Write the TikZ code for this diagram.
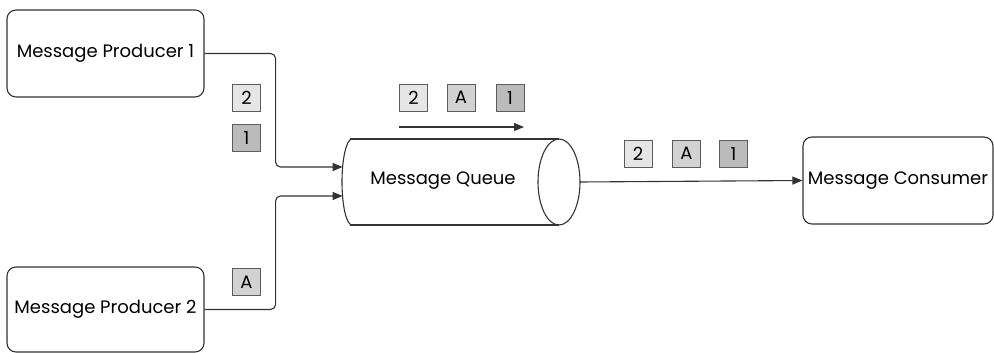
\documentclass[tikz,border=0pt]{standalone}
\usepackage{fontspec}
\setmainfont{Poppins}
\usetikzlibrary{arrows.meta}
\definecolor{tokA}{HTML}{E6E6E6}
\definecolor{tokB}{HTML}{D2D2D2}
\definecolor{tokC}{HTML}{BBBBBB}
\definecolor{edge}{HTML}{333333}
\tikzset{
  lbl/.style={font=\fontsize{18}{21}\selectfont},
  box/.style={lbl, draw=edge, line width=1.1pt, rounded corners=9pt, inner sep=0pt},
  tok/.style={lbl, draw=edge!80, line width=0.9pt, minimum width=28pt, minimum height=27pt, inner sep=0pt},
  conn/.style={draw=edge, line width=1.1pt, rounded corners=5pt, -{Triangle[length=10pt,width=8pt]}},
  plain/.style={draw=edge, line width=1.1pt}
}
\begin{document}
\begin{tikzpicture}[x=1pt,y=-1pt]
\useasboundingbox (0,0) rectangle (994,353);
% nodes
\node[box, minimum width=197pt, minimum height=87pt] (p1) at (105.5,53.5) {Message Producer 1};
\node[box, minimum width=197pt, minimum height=85pt] (p2) at (105.5,309.5) {Message Producer 2};
\node[box, minimum width=190pt, minimum height=87pt] (c) at (898,180.5) {Message Consumer};
% queue cylinder
\draw[plain] (350,139) -- (559,139) (350,225) -- (559,225);
\draw[plain] (352,139) arc[start angle=90, end angle=270, x radius=10pt, y radius=43pt];
\draw[plain] (559,182) ellipse[x radius=21pt, y radius=43pt];
\node[lbl] (q) at (443,181) {Message Queue};
\coordinate (qin1) at (342.6,167);
\coordinate (qin2) at (342.6,196);
\coordinate (qout) at (580,182);
% connectors
\draw[conn] (p1.east) -- ++(71,0) |- (qin1);
\draw[conn] (p2.east) -- ++(71,0) |- (qin2);
\draw[conn] (qout) -- (c.west);
% tokens left
\node[tok, fill=tokA] (l2) at (246.5,98) {2};
\node[tok, fill=tokC] (l1) at (246.5,137.5) {1};
\node[tok, fill=tokB] (lA) at (246.5,282) {A};
% tokens top
\node[tok, fill=tokA] (t2) at (413.5,97.5) {2};
\node[tok, fill=tokB] (tA) at (461,97.5) {A};
\node[tok, fill=tokC] (t1) at (510,97.5) {1};
\coordinate (ta) at (399,127);
\coordinate (tb) at (524,127);
\draw[conn] (ta) -- (tb);
% tokens right
\node[tok, fill=tokA] (r2) at (638,153.5) {2};
\node[tok, fill=tokB] (rA) at (686.5,153.5) {A};
\node[tok, fill=tokC] (r1) at (733.5,153.5) {1};
\end{tikzpicture}
\end{document}
